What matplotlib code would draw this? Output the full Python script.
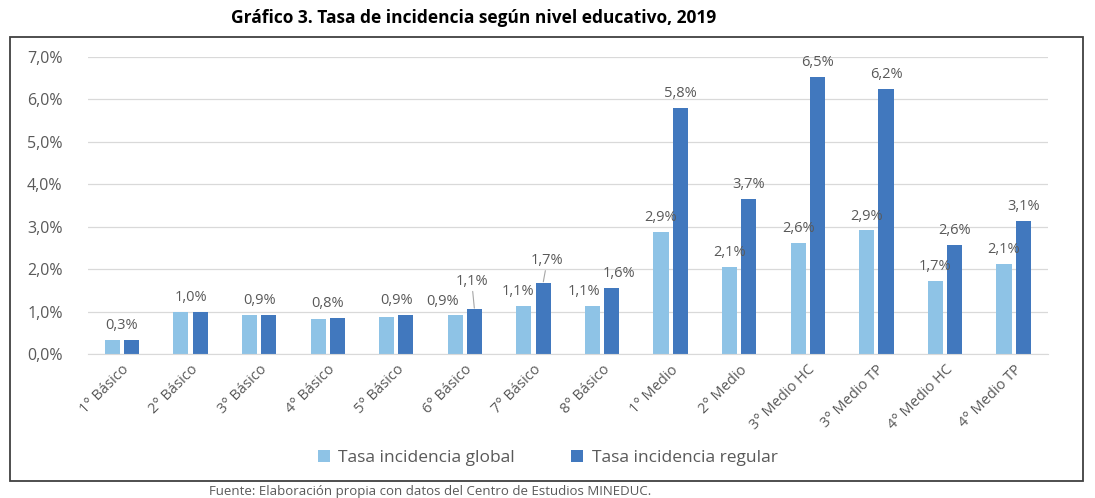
import matplotlib.pyplot as plt
import matplotlib.patches as mpatches
import numpy as np

# Datos del gráfico
niveles = ["1° Básico", "2° Básico", "3° Básico", "4° Básico", "5° Básico",
           "6° Básico", "7° Básico", "8° Básico", "1° Medio", "2° Medio",
           "3° Medio HC", "3° Medio TP", "4° Medio HC", "4° Medio TP"]
tasa_global = [0.33, 0.99, 0.91, 0.83, 0.88, 0.93, 1.14, 1.13, 2.88, 2.06, 2.61, 2.91, 1.72, 2.12]
tasa_regular = [0.33, 0.99, 0.91, 0.84, 0.92, 1.05, 1.67, 1.56, 5.80, 3.66, 6.52, 6.24, 2.57, 3.14]
yticks = [0, 1, 2, 3, 4, 5, 6, 7]

c_global = "#8EC3E6"
c_regular = "#4178BE"
gris = "#595959"

plt.rcParams['font.family'] = ['Open Sans', 'DejaVu Sans']

fig = plt.figure(figsize=(10.95, 4.98), dpi=100)
ax = fig.add_axes([0.080, 0.289, 0.877, 0.597])

x = np.arange(len(niveles))
w = 0.22
off = 0.14
b1 = ax.bar(x - off, tasa_global, w, color=c_global, label="Tasa incidencia global")
b2 = ax.bar(x + off, tasa_regular, w, color=c_regular, label="Tasa incidencia regular")

def fmt(v):
    return f"{v:.1f}%".replace(".", ",")

fs_lab = 10.5

# Etiquetas de datos
for i in range(len(niveles)):
    g, r = tasa_global[i], tasa_regular[i]
    if fmt(g) == fmt(r):
        ax.annotate(fmt(g), (x[i], max(g, r)), xytext=(0, 5), textcoords="offset points",
                    ha="center", va="bottom", fontsize=fs_lab, color=gris)
        continue
    dx_g, dy_g = 0, 5
    dx_r, dy_r = 0, 5
    if niveles[i] == "6° Básico":
        dx_g, dy_g = -9, 4
        dx_r, dy_r = -2, 15
    if niveles[i] == "7° Básico":
        dx_g = -4
        dx_r, dy_r = 3, 11
    if niveles[i] == "8° Básico":
        dx_g = -6
        dx_r = 5
    ax.annotate(fmt(g), (x[i] - off, g), xytext=(dx_g, dy_g), textcoords="offset points",
                ha="center", va="bottom", fontsize=fs_lab, color=gris)
    if dy_r > 8:
        ax.annotate(fmt(r), (x[i] + off, r), xytext=(dx_r, dy_r), textcoords="offset points",
                    ha="center", va="bottom", fontsize=fs_lab, color=gris,
                    arrowprops=dict(arrowstyle="-", color="#A6A6A6", lw=0.8,
                                    shrinkA=0, shrinkB=1))
    else:
        ax.annotate(fmt(r), (x[i] + off, r), xytext=(dx_r, dy_r), textcoords="offset points",
                    ha="center", va="bottom", fontsize=fs_lab, color=gris)

ax.set_ylim(0, 7)
ax.set_xlim(-0.5, len(niveles) - 0.5)
ax.set_yticks(yticks)
ax.set_yticklabels([f"{t:.1f}%".replace(".", ",") for t in yticks], fontsize=11.5, color=gris)
ax.set_xticks(x)
ax.set_xticklabels(niveles, rotation=45, ha="right", rotation_mode="anchor",
                   fontsize=10.5, color=gris)
ax.tick_params(axis="y", length=0, pad=18)
ax.tick_params(axis="x", length=0, pad=6)
ax.grid(axis="y", color="#D9D9D9", lw=0.9)
ax.set_axisbelow(True)
for s in ["top", "right", "left"]:
    ax.spines[s].set_visible(False)
ax.spines["bottom"].set_color("#D9D9D9")

fig.legend(handles=[b1, b2], loc="center", bbox_to_anchor=(0.50, 0.08), ncol=2,
           frameon=False, fontsize=12.5, handlelength=0.7, handleheight=0.7,
           handletextpad=0.5, columnspacing=3.2, labelcolor=gris)

# Marco y textos
marco = mpatches.Rectangle((10 / 1095, 1 - 481 / 498), 1073 / 1095, 444 / 498,
                           transform=fig.transFigure, fill=False,
                           edgecolor="#404040", lw=1.3)
fig.patches.append(marco)
fig.text(474 / 1095, 1 - 18 / 498, "Gráfico 3. Tasa de incidencia según nivel educativo, 2019",
         ha="center", va="center", fontsize=12.5, fontweight="bold", color="black")
fig.text(430 / 1095, 1 - 491 / 498, "Fuente: Elaboración propia con datos del Centro de Estudios MINEDUC.",
         ha="center", va="center", fontsize=9.5, color=gris)

fig.savefig("out.png", dpi=100)
